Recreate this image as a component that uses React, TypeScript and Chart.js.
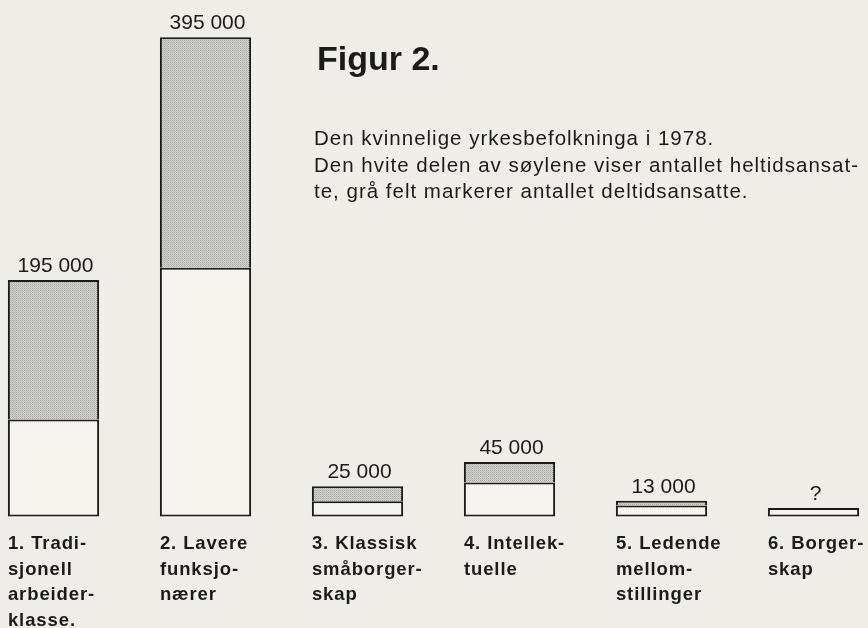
import React, { useEffect, useRef } from "react";
import { Chart, registerables } from "chart.js";

Chart.register(...registerables);

// ---- data ----
const categories: string[][] = [
  ["1. Tradi-", "sjonell", "arbeider-", "klasse."],
  ["2. Lavere", "funksjo-", "nærer"],
  ["3. Klassisk", "småborger-", "skap"],
  ["4. Intellek-", "tuelle"],
  ["5. Ledende", "mellom-", "stillinger"],
  ["6. Borger-", "skap"],
];
const fullTime = [80000, 205000, 12500, 28000, 9000, 7000];
const partTime = [115000, 190000, 12500, 17000, 4000, 0];
const totalLabels = ["195 000", "395 000", "25 000", "45 000", "13 000", "?"];
const titleText = "Figur 2.";
const descriptionLines = [
  "Den kvinnelige yrkesbefolkninga i 1978.",
  "Den hvite delen av søylene viser antallet heltidsansat-",
  "te, grå felt markerer antallet deltidsansatte.",
];
const yMax = 420000;

const BG = "#eeede7";
const INK = "#1b1b1b";

function makePattern(ctx: CanvasRenderingContext2D): CanvasPattern | string {
  const c = document.createElement("canvas");
  c.width = 2;
  c.height = 2;
  const p = c.getContext("2d");
  if (!p) return "#c8c8c5";
  p.fillStyle = "#d0d0cc";
  p.fillRect(0, 0, 2, 2);
  p.fillStyle = "#a8a8a5";
  p.fillRect(0, 0, 1, 1);
  p.fillStyle = "#bdbdba";
  p.fillRect(1, 1, 1, 1);
  return ctx.createPattern(c, "repeat") || "#c8c8c5";
}

const backgroundPlugin = {
  id: "bgFill",
  beforeDraw(chart: any) {
    const ctx = chart.ctx;
    ctx.save();
    ctx.fillStyle = BG;
    ctx.fillRect(0, 0, chart.width, chart.height);
    ctx.restore();
  },
};

const textPlugin = {
  id: "figureTexts",
  afterDraw(chart: any) {
    const ctx: CanvasRenderingContext2D = chart.ctx;
    const y = chart.scales.y;
    const meta = chart.getDatasetMeta(0);
    ctx.save();
    ctx.fillStyle = INK;
    ctx.textBaseline = "alphabetic";

    // totals above bars
    ctx.font = "21px 'Liberation Sans', Arial, sans-serif";
    (ctx as any).letterSpacing = "0px";
    ctx.textAlign = "center";
    meta.data.forEach((bar: any, i: number) => {
      const top = y.getPixelForValue(fullTime[i] + partTime[i]);
      ctx.fillText(totalLabels[i], bar.x + 2, top - 8);
    });

    // category labels below bars
    ctx.font = "bold 18.5px 'Liberation Sans', Arial, sans-serif";
    (ctx as any).letterSpacing = "0.9px";
    ctx.textAlign = "left";
    const base = y.getPixelForValue(0);
    meta.data.forEach((bar: any, i: number) => {
      const left = bar.x - bar.width / 2;
      categories[i].forEach((line, k) => {
        ctx.fillText(line, left, base + 32.5 + k * 25.6);
      });
    });

    // title
    (ctx as any).letterSpacing = "0px";
    ctx.font = "bold 34px 'Liberation Sans', Arial, sans-serif";
    ctx.fillText(titleText, 317, 70);

    // description
    ctx.font = "20.5px 'Liberation Sans', Arial, sans-serif";
    (ctx as any).letterSpacing = "1px";
    const baselines = [145, 172, 198];
    descriptionLines.forEach((line, k) => {
      ctx.fillText(line, 314, baselines[k]);
    });
    (ctx as any).letterSpacing = "0px";
    ctx.restore();
  },
};

export default function App() {
  const ref = useRef<HTMLCanvasElement | null>(null);

  useEffect(() => {
    const canvas = ref.current;
    if (!canvas) return;
    const ctx = canvas.getContext("2d");
    if (!ctx) return;
    document.body.style.background = BG;
    const pattern = makePattern(ctx);

    const chart = new Chart(ctx, {
      type: "bar",
      data: {
        labels: categories.map((c) => c.join(" ")),
        datasets: [
          {
            label: "Heltid",
            data: fullTime,
            backgroundColor: "#f4f3ee",
            borderColor: INK,
            borderWidth: 2,
            borderSkipped: false,
            clip: false as any,
          },
          {
            label: "Deltid",
            data: partTime,
            backgroundColor: pattern as any,
            borderColor: INK,
            borderWidth: { top: 2, left: 2, right: 2, bottom: 0 },
            borderSkipped: false,
            clip: false as any,
          },
        ],
      },
      options: {
        responsive: false,
        animation: false,
        events: [],
        layout: { padding: { left: 53.5, right: 54.5, top: 7, bottom: 111.5 } },
        datasets: {
          bar: { categoryPercentage: 1, barPercentage: 0.6 },
        },
        plugins: {
          legend: { display: false },
          tooltip: { enabled: false },
          title: { display: false },
        },
        scales: {
          x: {
            display: false,
            stacked: true,
            offset: false,
            grid: { display: false },
          },
          y: {
            display: false,
            stacked: true,
            min: 0,
            max: yMax,
            grid: { display: false },
          },
        },
      },
      plugins: [backgroundPlugin, textPlugin],
    });

    return () => {
      chart.destroy();
    };
  }, []);

  return (
    <div
      style={{
        position: "absolute",
        left: 0,
        top: 0,
        width: 868,
        height: 628,
        overflow: "hidden",
        background: BG,
      }}
    >
      <canvas ref={ref} width={868} height={628} style={{ display: "block" }} />
    </div>
  );
}
